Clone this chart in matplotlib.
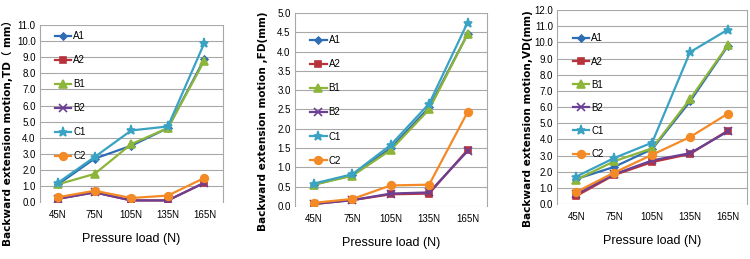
import numpy as np
import matplotlib.pyplot as plt

plt.rcParams['font.family'] = ['Liberation Sans Narrow', 'Liberation Sans', 'DejaVu Sans', 'Noto Sans CJK SC']

# -----------------------------
# data
# -----------------------------
loads = ["45N", "75N", "105N", "135N", "165N"]
series = ["A1", "A2", "B1", "B2", "C1", "C2"]

td_A1 = [1.1, 2.7, 3.5, 4.6, 8.9]
td_A2 = [0.2, 0.6, 0.1, 0.1, 1.2]
td_B1 = [1.1, 1.75, 3.6, 4.6, 8.8]
td_B2 = [0.2, 0.6, 0.1, 0.1, 1.2]
td_C1 = [1.2, 2.8, 4.45, 4.7, 9.9]
td_C2 = [0.3, 0.7, 0.25, 0.4, 1.5]

fd_A1 = [0.55, 0.8, 1.5, 2.55, 4.45]
fd_A2 = [0.05, 0.15, 0.3, 0.32, 1.45]
fd_B1 = [0.55, 0.78, 1.45, 2.5, 4.45]
fd_B2 = [0.05, 0.15, 0.32, 0.35, 1.42]
fd_C1 = [0.58, 0.82, 1.58, 2.65, 4.75]
fd_C2 = [0.08, 0.18, 0.53, 0.55, 2.43]

vd_A1 = [1.55, 2.3, 3.4, 6.35, 9.8]
vd_A2 = [0.5, 1.8, 2.6, 3.1, 4.55]
vd_B1 = [1.5, 2.65, 3.45, 6.5, 9.85]
vd_B2 = [0.6, 1.85, 2.7, 3.15, 4.5]
vd_C1 = [1.7, 2.85, 3.8, 9.4, 10.8]
vd_C2 = [0.75, 1.95, 3.05, 4.15, 5.6]

# -----------------------------
# style
# -----------------------------
colors = ["#2e6db4", "#b8323c", "#8db53a", "#6b3f93", "#3aa2c2", "#f48a26"]
markers = ["D", "s", "^", "x", "*", "o"]
msizes = [3.5, 5, 5.5, 5.5, 6.5, 5.5]

# data, ymax, step, ylabel, axes rect, legend top, legend spacing, ylabel pos (fig px)
panels = [
    ([td_A1, td_A2, td_B1, td_B2, td_C1, td_C2], 11.0, 1.0,
     "Backward extension motion,TD（ mm）", [0.053, 0.22, 0.244, 0.683], 1.0, 1.45, (7, 130)),
    ([fd_A1, fd_A2, fd_B1, fd_B2, fd_C1, fd_C2], 5.0, 0.5,
     "Backward extension motion ,FD(mm)", [0.393, 0.205, 0.256, 0.745], 0.915, 1.45, (263, 121)),
    ([vd_A1, vd_A2, vd_B1, vd_B2, vd_C1, vd_C2], 12.0, 1.0,
     "Backward extension motion,VD(mm)", [0.743, 0.212, 0.253, 0.749], 0.91, 1.35, (528, 119)),
]

W, H = 750, 259
fig = plt.figure(figsize=(W / 100, H / 100), dpi=100)
x = np.arange(len(loads))

for data, ymax, step, ylab, rect, legtop, legsp, ypos in panels:
    ax = fig.add_axes(rect)
    for vals, name, c, m, ms in zip(data, series, colors, markers, msizes):
        ax.plot(x, vals, color=c, lw=1.6, marker=m, ms=ms, mew=1.2, label=name)

    ticks = np.arange(0, ymax + step / 2, step)
    ax.set_yticks(ticks)
    ax.set_yticklabels(["{:.1f}".format(t) for t in ticks], fontsize=7)
    ax.set_ylim(0, ymax)
    ax.set_xlim(-0.5, 4.5)
    ax.set_xticks(x)
    ax.set_xticklabels(loads, fontsize=7)
    ax.tick_params(axis="x", length=0, pad=6)
    ax.tick_params(axis="y", length=0, pad=3)
    ax.yaxis.grid(True, color="#a8a8a8", lw=0.8)
    ax.set_axisbelow(True)
    for s in ["top", "bottom"]:
        ax.spines[s].set_visible(False)
    for s in ["left", "right"]:
        ax.spines[s].set_color("#a8a8a8")
        ax.spines[s].set_linewidth(0.8)

    ax.set_xlabel("Pressure load (N)", fontsize=9, labelpad=9)
    fig.text(ypos[0] / W, 1 - ypos[1] / H, ylab, rotation=90, ha="center", va="center",
             fontsize=7.6, fontweight="bold", family=["DejaVu Sans", "Noto Sans CJK SC"])

    ax.legend(loc="upper left", bbox_to_anchor=(0.05, legtop), frameon=False,
              fontsize=7, labelspacing=legsp, handlelength=1.7,
              handletextpad=0.2, borderaxespad=0.2)

fig.savefig("out.png", dpi=100)
